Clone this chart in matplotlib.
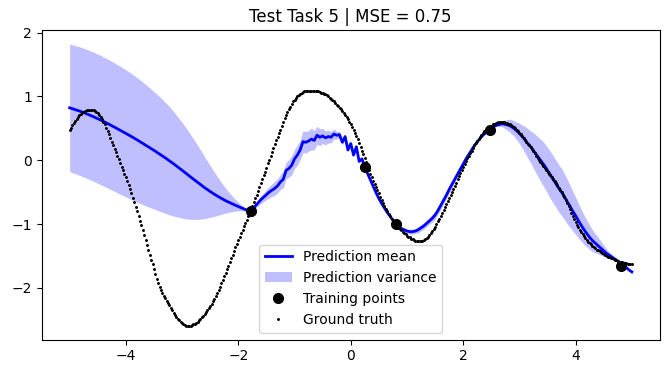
import numpy as np
import matplotlib
matplotlib.use("Agg")
import matplotlib.pyplot as plt

# ---------------- data ----------------
# ground truth sampled every 0.025 on [-5, 5]
gt_x = np.linspace(-5, 5, 401)
ground_truth = [
    0.47, 0.51, 0.55, 0.59, 0.62, 0.65, 0.68, 0.71, 0.73, 0.75, 0.76, 0.77, 0.78, 0.79, 0.79, 0.79, 0.79, 0.78, 0.77, 0.76,
    0.74, 0.71, 0.68, 0.64, 0.60, 0.56, 0.51, 0.46, 0.41, 0.35, 0.29, 0.24, 0.18, 0.13, 0.07, 0.02, -0.04, -0.10, -0.16, -0.21,
    -0.27, -0.33, -0.39, -0.45, -0.52, -0.59, -0.66, -0.73, -0.80, -0.87, -0.95, -1.02, -1.10, -1.17, -1.25, -1.33, -1.41, -1.48, -1.56, -1.63,
    -1.71, -1.79, -1.86, -1.92, -1.98, -2.03, -2.08, -2.12, -2.16, -2.20, -2.24, -2.27, -2.31, -2.35, -2.39, -2.43, -2.46, -2.49, -2.51, -2.53,
    -2.55, -2.57, -2.58, -2.59, -2.59, -2.59, -2.59, -2.58, -2.57, -2.56, -2.55, -2.53, -2.51, -2.49, -2.46, -2.44, -2.41, -2.38, -2.35, -2.32,
    -2.28, -2.25, -2.21, -2.17, -2.12, -2.08, -2.03, -1.98, -1.93, -1.88, -1.82, -1.77, -1.71, -1.66, -1.60, -1.54, -1.48, -1.42, -1.36, -1.31,
    -1.25, -1.20, -1.14, -1.09, -1.03, -0.98, -0.93, -0.88, -0.82, -0.77, -0.71, -0.66, -0.60, -0.54, -0.48, -0.42, -0.36, -0.30, -0.24, -0.18,
    -0.12, -0.05, 0.01, 0.07, 0.13, 0.19, 0.25, 0.31, 0.37, 0.43, 0.48, 0.54, 0.60, 0.66, 0.71, 0.76, 0.80, 0.84, 0.88, 0.92,
    0.95, 0.98, 1.00, 1.02, 1.04, 1.06, 1.07, 1.08, 1.08, 1.09, 1.09, 1.09, 1.09, 1.09, 1.09, 1.09, 1.08, 1.08, 1.07, 1.06,
    1.05, 1.04, 1.03, 1.02, 1.00, 0.98, 0.96, 0.94, 0.92, 0.90, 0.87, 0.85, 0.82, 0.80, 0.77, 0.74, 0.71, 0.68, 0.64, 0.60,
    0.56, 0.52, 0.47, 0.43, 0.38, 0.33, 0.27, 0.21, 0.15, 0.09, 0.03, -0.03, -0.09, -0.15, -0.21, -0.27, -0.32, -0.37, -0.42, -0.47,
    -0.52, -0.57, -0.62, -0.67, -0.71, -0.76, -0.80, -0.84, -0.88, -0.92, -0.95, -0.98, -1.01, -1.04, -1.06, -1.08, -1.10, -1.12, -1.14, -1.16,
    -1.18, -1.20, -1.21, -1.23, -1.24, -1.25, -1.26, -1.27, -1.27, -1.27, -1.27, -1.26, -1.25, -1.24, -1.22, -1.20, -1.17, -1.14, -1.11, -1.08,
    -1.04, -1.00, -0.96, -0.92, -0.87, -0.83, -0.78, -0.74, -0.69, -0.64, -0.59, -0.55, -0.50, -0.45, -0.40, -0.35, -0.30, -0.25, -0.20, -0.16,
    -0.11, -0.06, -0.02, 0.03, 0.07, 0.11, 0.15, 0.19, 0.23, 0.27, 0.30, 0.33, 0.36, 0.39, 0.42, 0.45, 0.47, 0.49, 0.51, 0.53,
    0.54, 0.56, 0.57, 0.58, 0.59, 0.60, 0.60, 0.60, 0.60, 0.60, 0.59, 0.58, 0.57, 0.56, 0.55, 0.54, 0.52, 0.50, 0.48, 0.46,
    0.43, 0.41, 0.38, 0.35, 0.32, 0.29, 0.26, 0.23, 0.20, 0.17, 0.14, 0.11, 0.07, 0.04, 0.00, -0.03, -0.06, -0.09, -0.12, -0.15,
    -0.18, -0.21, -0.24, -0.27, -0.30, -0.33, -0.36, -0.39, -0.43, -0.46, -0.50, -0.54, -0.58, -0.62, -0.67, -0.72, -0.77, -0.82, -0.87, -0.92,
    -0.97, -1.01, -1.05, -1.09, -1.13, -1.16, -1.19, -1.22, -1.25, -1.28, -1.30, -1.32, -1.34, -1.36, -1.38, -1.40, -1.41, -1.43, -1.44, -1.46,
    -1.47, -1.49, -1.50, -1.51, -1.52, -1.53, -1.54, -1.55, -1.56, -1.57, -1.58, -1.59, -1.60, -1.61, -1.61, -1.61, -1.61, -1.62, -1.62, -1.63,
    -1.63,
]

# prediction sampled every 0.05 on [-5, 5]
pred_x = np.linspace(-5, 5, 201)
pred_mean = [
    0.820, 0.806, 0.792, 0.777, 0.762, 0.745, 0.727, 0.709, 0.690, 0.670,
    0.650, 0.629, 0.608, 0.586, 0.563, 0.540, 0.516, 0.492, 0.468, 0.444,
    0.420, 0.395, 0.370, 0.344, 0.318, 0.291, 0.264, 0.237, 0.210, 0.182,
    0.154, 0.125, 0.097, 0.067, 0.037, 0.006, -0.025, -0.058, -0.091, -0.124,
    -0.158, -0.193, -0.227, -0.262, -0.296, -0.330, -0.364, -0.397, -0.430, -0.461,
    -0.491, -0.520, -0.548, -0.574, -0.599, -0.623, -0.646, -0.667, -0.687, -0.707,
    -0.726, -0.745, -0.763, -0.782, -0.800,
    -0.79, -0.72, -0.67, -0.62, -0.58, -0.54, -0.50, -0.47, -0.44, -0.40,
    -0.34, -0.30, -0.16, -0.13, -0.08, 0.02, 0.08, 0.16, 0.29, 0.28,
    0.30, 0.33, 0.31, 0.39, 0.36, 0.38, 0.35, 0.37, 0.36, 0.41,
    0.39, 0.40, 0.28, 0.37, 0.16, 0.26, 0.08, 0.21, -0.02, 0.02,
    -0.11,
    -0.21, -0.31, -0.41, -0.51, -0.60, -0.68, -0.75, -0.82, -0.88, -0.94,
    -0.99, -1.03, -1.07, -1.09, -1.11, -1.12, -1.12, -1.11, -1.09, -1.06,
    -1.03, -0.99, -0.95, -0.91, -0.86, -0.79, -0.71, -0.63, -0.55, -0.46,
    -0.38, -0.30, -0.22, -0.14, -0.06, 0.02, 0.09, 0.16, 0.23, 0.29,
    0.34, 0.39, 0.43, 0.47, 0.50, 0.53, 0.55, 0.56, 0.57, 0.56,
    0.55, 0.53, 0.50, 0.46, 0.42, 0.37, 0.32, 0.26, 0.21, 0.15,
    0.09, 0.03, -0.03, -0.09, -0.16, -0.23, -0.30, -0.37, -0.44, -0.50,
    -0.57, -0.65, -0.72, -0.80, -0.87, -0.95, -1.02, -1.09, -1.15, -1.21,
    -1.26, -1.30, -1.34, -1.38, -1.42, -1.46, -1.49, -1.52, -1.55, -1.58,
    -1.62, -1.65, -1.68, -1.72, -1.75,
]

# half-width of the shaded band around the mean
pred_spread = [
    1.000, 1.002, 1.004, 1.006, 1.008, 1.009, 1.010, 1.011, 1.012, 1.012,
    1.012, 1.012, 1.011, 1.010, 1.009, 1.008, 1.006, 1.004, 1.002, 0.999,
    0.996, 0.992, 0.987, 0.981, 0.975, 0.968, 0.960, 0.951, 0.941, 0.931,
    0.920, 0.909, 0.897, 0.884, 0.870, 0.855, 0.838, 0.818, 0.797, 0.774,
    0.750, 0.723, 0.694, 0.664, 0.632, 0.598, 0.562, 0.524, 0.485, 0.445,
    0.405, 0.365, 0.325, 0.286, 0.248, 0.212, 0.178, 0.146, 0.117, 0.091,
    0.068, 0.047, 0.029, 0.013, 0.000,
    0.01, 0.03, 0.05, 0.06, 0.07, 0.08, 0.09, 0.10, 0.11, 0.11,
    0.12, 0.13, 0.13, 0.14, 0.15, 0.15, 0.16, 0.15, 0.17, 0.17,
    0.16, 0.17, 0.15, 0.14, 0.13, 0.12, 0.11, 0.10, 0.09, 0.08,
    0.06, 0.05, 0.04, 0.03, 0.02, 0.02, 0.01, 0.01, 0.01, 0.01,
    0.00,
    0.01, 0.01, 0.02, 0.02, 0.02, 0.02, 0.02, 0.01, 0.01, 0.01,
    0.00, 0.01, 0.02, 0.03, 0.03, 0.04, 0.04, 0.04, 0.05, 0.05,
    0.05, 0.05, 0.05, 0.06, 0.06, 0.06, 0.06, 0.06, 0.06, 0.06,
    0.06, 0.05, 0.05, 0.05, 0.04, 0.04, 0.03, 0.03, 0.02, 0.02,
    0.01, 0.01, 0.01, 0.00, 0.00, 0.01, 0.02, 0.03, 0.05, 0.07,
    0.09, 0.11, 0.12, 0.14, 0.16, 0.18, 0.21, 0.23, 0.25, 0.28,
    0.30, 0.32, 0.34, 0.35, 0.36, 0.37, 0.37, 0.37, 0.37, 0.37,
    0.36, 0.35, 0.33, 0.31, 0.29, 0.27, 0.25, 0.23, 0.21, 0.19,
    0.17, 0.15, 0.13, 0.11, 0.09, 0.07, 0.05, 0.04, 0.03, 0.02,
    0.01, 0.01, 0.02, 0.02, 0.03,
]

train_x = [-1.78, 0.25, 0.80, 2.48, 4.80]
train_y = [-0.80, -0.11, -1.00, 0.48, -1.66]

title = "Test Task 5 | MSE = 0.75"

# ---------------- plot ----------------
mean = np.array(pred_mean)
spread = np.array(pred_spread)

fig = plt.figure(figsize=(6.7, 3.74), dpi=100)
ax = fig.add_axes([0.062, 0.092, 0.923, 0.828])

ax.plot(pred_x, mean, color="blue", lw=2, label="Prediction mean", zorder=2)
ax.fill_between(pred_x, mean - spread, mean + spread, color="blue", alpha=0.25,
                lw=0, label="Prediction variance", zorder=1)
ax.plot(train_x, train_y, "ko", markersize=7, label="Training points", zorder=4)
ax.plot(gt_x, ground_truth, "k.", markersize=2.2, label="Ground truth", zorder=3)

ax.set_title(title)
ax.legend(loc="lower center")

fig.savefig("out.png", dpi=100)
